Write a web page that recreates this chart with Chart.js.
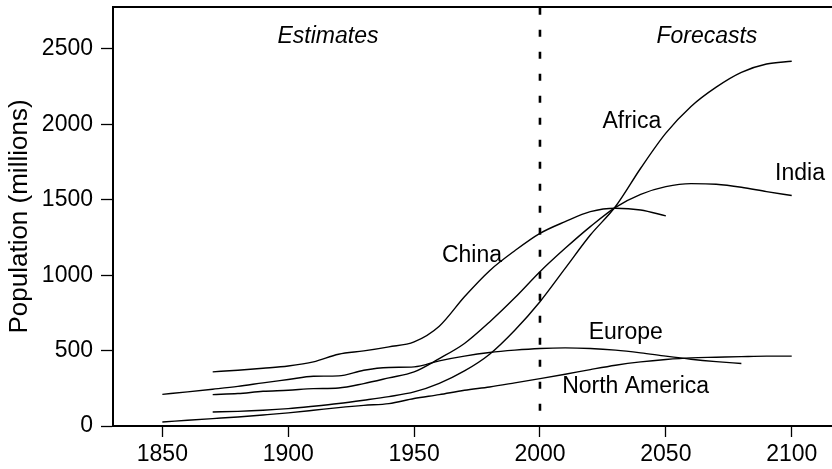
<!DOCTYPE html>
<html>
<head>
<meta charset="utf-8">
<script src="https://cdn.jsdelivr.net/npm/chart.js@4.4.1/dist/chart.umd.min.js"></script>
<style>
  html, body { margin: 0; padding: 0; background: #fff; }
</style>
</head>
<body>
<canvas id="chart" width="832" height="469"></canvas>
<script>
// Decades (millions)
const years = [1850, 1860, 1870, 1880, 1890, 1900, 1910, 1920, 1930, 1940, 1950, 1960, 1970,
  1980, 1990, 2000, 2010, 2020, 2030, 2040, 2050, 2060, 2070, 2080, 2090, 2100];

const africa = [null, null, 93, 97, 104, 115, 131, 149, 171, 195, 226, 283, 365,
  476, 635, 824, 1045, 1266, 1455, 1709, 1942, 2119, 2247, 2345, 2400, 2418];
const india = [null, null, 208, 215, 230, 237, 248, 252, 281, 319, 359, 447, 547,
  690, 850, 1023, 1178, 1322, 1450, 1536, 1587, 1607, 1603, 1583, 1554, 1528];
const china = [null, null, 359, 370, 383, 398, 425, 476, 498, 525, 558, 662, 857,
  1030, 1162, 1277, 1355, 1421, 1444, 1432, 1393, null, null, null, null, null];
const europe = [210, 226, 244, 263, 286, 308, 330, 332, 370, 388, 392, 432, 463,
  487, 503, 514, 518, 514, 503, 485, 463, 443, 427, 414, null, null];
const northAmerica = [27, 38, 49, 60, 73, 87, 104, 122, 137, 148, 182, 208, 237,
  259, 286, 314, 343, 374, 403, 425, 441, 452, 456, 460, 463, 463];

const xTicks = [1850, 1900, 1950, 2000, 2050, 2100];
const yTicks = [0, 500, 1000, 1500, 2000, 2500];
const splitYear = 2000;

// text placed in data coordinates (baseline)
const textLabels = [
  { text: 'Estimates', x: 1915.8, y: 2540, italic: true },
  { text: 'Forecasts', x: 2066.3, y: 2540, italic: true },
  { text: 'Africa', x: 2036.5, y: 1975 },
  { text: 'India', x: 2103.3, y: 1632 },
  { text: 'China', x: 1973, y: 1089 },
  { text: 'Europe', x: 2034.1, y: 580 },
  { text: 'North America', x: 2038, y: 219 },
];

const FONT = '"Liberation Sans", Arial, Helvetica, sans-serif';

function toPoints(values) {
  return years.map((yr, i) => ({ x: yr, y: values[i] }));
}

function seriesLine(label, values) {
  return {
    label: label,
    data: toPoints(values),
    borderColor: '#000',
    borderWidth: 1.4,
    pointRadius: 0,
    fill: false,
    cubicInterpolationMode: 'monotone',
    spanGaps: false,
  };
}

function noPadding(s) {
  s.paddingTop = 0;
  s.paddingBottom = 0;
  s.paddingLeft = 0;
  s.paddingRight = 0;
}

const overlay = {
  id: 'overlay',
  afterDatasetsDraw(chart) {
    const { ctx, chartArea, scales } = chart;
    ctx.save();
    // top edge of the frame
    ctx.strokeStyle = '#000';
    ctx.lineWidth = 2;
    ctx.beginPath();
    ctx.moveTo(chartArea.left, chartArea.top);
    ctx.lineTo(chartArea.right, chartArea.top);
    ctx.stroke();

    ctx.fillStyle = '#000';
    ctx.textAlign = 'center';
    ctx.textBaseline = 'alphabetic';
    textLabels.forEach(l => {
      ctx.font = (l.italic ? 'italic ' : '') + '23px ' + FONT;
      ctx.fillText(l.text, scales.x.getPixelForValue(l.x), scales.y.getPixelForValue(l.y));
    });
    ctx.restore();
  }
};

const ctx = document.getElementById('chart').getContext('2d');

new Chart(ctx, {
  type: 'line',
  data: {
    datasets: [
      seriesLine('Africa', africa),
      seriesLine('India', india),
      seriesLine('China', china),
      seriesLine('Europe', europe),
      seriesLine('North America', northAmerica),
      {
        label: 'split',
        data: [{ x: splitYear, y: 0 }, { x: splitYear, y: 2778 }],
        borderColor: '#000',
        borderWidth: 2.6,
        borderDash: [7, 15],
        borderDashOffset: 6.8,
        pointRadius: 0,
        fill: false,
      },
    ],
  },
  options: {
    responsive: false,
    animation: false,
    layout: { padding: { top: 7, right: 0, bottom: 0, left: 0 } },
    plugins: {
      legend: { display: false },
      tooltip: { enabled: false },
    },
    scales: {
      x: {
        type: 'linear',
        min: 1830.4,
        max: 2116,
        afterBuildTicks: s => { s.ticks = xTicks.map(v => ({ value: v })); },
        afterFit: s => { s.height = 43; noPadding(s); },
        ticks: {
          color: '#000',
          font: { family: FONT, size: 23 },
          padding: 4,
          maxRotation: 0,
          autoSkip: false,
          callback: v => String(v),
        },
        grid: {
          drawOnChartArea: false,
          drawTicks: true,
          tickLength: 11,
          tickColor: '#000',
          tickWidth: 1.3,
        },
        border: { color: '#000', width: 2 },
      },
      y: {
        min: 0,
        max: 2778,
        afterBuildTicks: s => { s.ticks = yTicks.map(v => ({ value: v })); },
        afterFit: s => { s.width = 113; noPadding(s); },
        ticks: {
          color: '#000',
          font: { family: FONT, size: 23 },
          padding: 8,
          callback: v => String(v),
        },
        grid: {
          drawOnChartArea: false,
          drawTicks: true,
          tickLength: 12,
          tickColor: '#000',
          tickWidth: 1.3,
        },
        border: { color: '#000', width: 2 },
        title: {
          display: true,
          text: 'Population (millions)',
          color: '#000',
          font: { family: FONT, size: 26 },
          padding: { top: 4, bottom: 0 },
        },
      },
    },
  },
  plugins: [overlay],
});
</script>
</body>
</html>
